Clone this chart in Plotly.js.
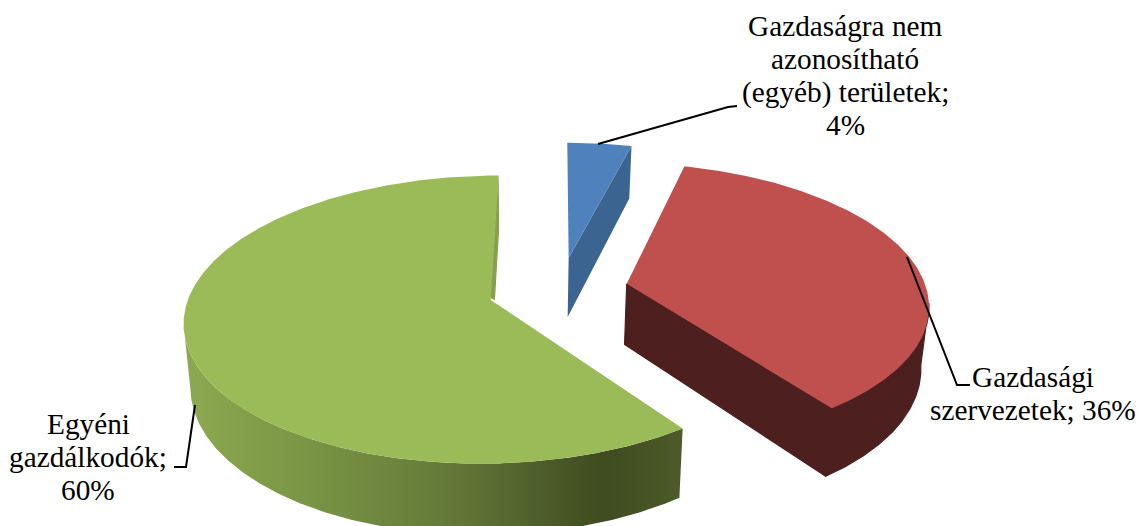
<!DOCTYPE html>
<html>
<head>
<meta charset="utf-8">
<script src="https://cdn.plot.ly/plotly-3.0.1.min.js"></script>
<style>html,body{margin:0;padding:0;background:#fff}#chart{width:1141px;height:526px}</style>
</head>
<body>
<div id="chart"></div>
<script>
// Data
const categories = ["Gazdaságra nem azonosítható (egyéb) területek", "Gazdasági szervezetek", "Egyéni gazdálkodók"];
const shares = [4, 36, 60];
const labelLines = [
  ["Gazdaságra nem", "azonosítható", "(egyéb) területek;", "4%"],
  ["Gazdasági", "szervezetek; 36%"],
  ["Egyéni", "gazdálkodók;", "60%"]
];
const topColors = ["#4F81BD", "#C0504D", "#9BBB59"];
const sideColors = ["#3B6590", "#4D1F1F", "#86A04B"];
const explodes = [0.24, 0.238, 0.23];

// 3D view of the exploded pie
const view = {X0: 557, Y0: 290, Rx: 300, Ry: 138.7, k: 0.135, depth: 61, shrink: 0.02, shrinkX: 520};
const rad = a => a * Math.PI / 180;
function project(wx, wy, z) {
  const s = 1 / (1 - view.k * wy);
  const X = view.X0 + view.Rx * wx * s;
  return [X - view.shrink * z * (X - view.shrinkX), view.Y0 + (view.Ry * wy + view.depth * z) * s];
}
const total = shares.reduce((a, b) => a + b, 0);
let cum = 0;
const slices = shares.map((v, i) => {
  const a0 = cum / total * 360; cum += v;
  const a1 = cum / total * 360, mid = (a0 + a1) / 2;
  return {a0, a1, ox: explodes[i] * Math.sin(rad(mid)) + (i === 0 ? 0.01 : 0), oy: -explodes[i] * Math.cos(rad(mid))};
});
const rim = (sl, a, z) => project(sl.ox + Math.sin(rad(a)), sl.oy - Math.cos(rad(a)), z);
const apex = (sl, z) => project(sl.ox, sl.oy, z);
function arc(sl, from, to, z) {
  const out = [], n = Math.max(2, Math.ceil(Math.abs(to - from) * 2));
  for (let i = 0; i <= n; i++) out.push(rim(sl, from + (to - from) * i / n, z));
  return out;
}
function poly(pts, color, extra, seam) {
  return Object.assign({
    type: "scatter", mode: "lines", x: pts.map(p => p[0]).concat(pts[0][0]), y: pts.map(p => p[1]).concat(pts[0][1]),
    fill: "toself", fillcolor: color, line: seam ? {width: 1.2, color: color} : {width: 0}, hoverinfo: "skip", showlegend: false
  }, extra || {});
}
const [blue, red, green] = slices;
const traces = [];

// green: inner sliver (only the part above the apex is visible)
{
  const bt = rim(green, green.a1, 0), bb = rim(green, green.a1, 1), at = apex(green, 0), ab = apex(green, 1);
  const t = (at[1] - bb[1]) / (ab[1] - bb[1]);
  const cut = [bb[0] + (ab[0] - bb[0]) * t, at[1]];
  traces.push(poly([[at[0] - 3, at[1] - 3], bt, bb, cut], sideColors[2]));
}
// green: outer wall with gradient
traces.push(poly(arc(green, green.a0, 260, 0).concat(arc(green, 260, green.a0, 1)), sideColors[2], {
  fillgradient: {type: "horizontal", start: 184, stop: 676, colorscale: [
    [0, "#8DA950"], [0.25, "#7A9545"], [0.55, "#637838"], [0.85, "#3F4B20"], [1, "#4B5A28"]
  ]}
}));
traces.push(poly([apex(green, 0)].concat(arc(green, green.a0, green.a1, 0)), topColors[2]));

// red: wall and cut face
traces.push(poly([apex(red, 0), rim(red, red.a1, 0), rim(red, red.a1, 1), apex(red, 1)], sideColors[1], null, true));
traces.push(poly(arc(red, 98, red.a1, 0).concat(arc(red, red.a1, 98, 1)), sideColors[1], null, true));
traces.push(poly([apex(red, 0)].concat(arc(red, red.a0, red.a1, 0)), topColors[1]));

// blue: cut face and top
traces.push(poly([apex(blue, 0), rim(blue, blue.a1, 0), rim(blue, blue.a1, 1), apex(blue, 1)], sideColors[0]));
traces.push(poly([apex(blue, 0)].concat(arc(blue, blue.a0, blue.a1, 0)), topColors[0]));

// leader lines
const leaders = [
  {x: [598, 728, 737], y: [144, 107, 106]},
  {x: [907, 957, 970], y: [257, 385, 385]},
  {x: [195, 186, 174], y: [405, 467, 467]}
];
leaders.forEach(l => traces.push({type: "scatter", mode: "lines", x: l.x, y: l.y,
  line: {color: "#000", width: 2}, hoverinfo: "skip", showlegend: false}));

const labelPos = [{x: 845, y: 26}, {x: 1033, y: 377}, {x: 88, y: 424}];
const lineGap = 33;
const annotations = [];
labelLines.forEach((lines, i) => lines.forEach((t, j) => annotations.push({
  text: t, x: labelPos[i].x, y: labelPos[i].y + j * lineGap, xref: "x", yref: "y", showarrow: false,
  align: "center", xanchor: "center", yanchor: "middle",
  font: {family: "Liberation Serif, Times New Roman, serif", size: 29.3, color: "#000"}
})));
const layout = {
  width: 1141, height: 526, margin: {l: 0, r: 0, t: 0, b: 0},
  paper_bgcolor: "#fff", plot_bgcolor: "#fff", showlegend: false,
  xaxis: {range: [0, 1141], visible: false, fixedrange: true},
  yaxis: {range: [526, 0], visible: false, fixedrange: true},
  annotations
};
Plotly.newPlot("chart", traces, layout, {displayModeBar: false, staticPlot: true});
</script>
</body>
</html>
